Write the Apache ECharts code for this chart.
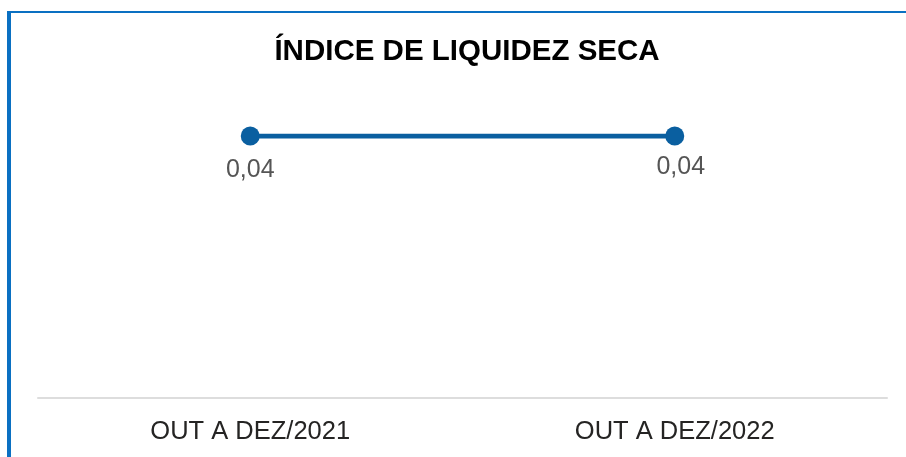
<!DOCTYPE html>
<html><head><meta charset="utf-8">
<script src="https://cdn.jsdelivr.net/npm/echarts@6/dist/echarts.min.js"></script>
<style>html,body{margin:0;padding:0;background:#fff}#c{width:906px;height:457px}</style>
</head><body><div id="c"></div>
<script>
const titleText = 'ÍNDICE DE LIQUIDEZ SECA';
const categories = ['OUT A DEZ/2021', 'OUT A DEZ/2022'];
const values = [0.04, 0.04];
const labelTexts = ['0,04', '0,04'];

const chart = echarts.init(document.getElementById('c'));
chart.setOption({
  animation: false,
  backgroundColor: '#fff',
  title: {
    text: titleText, left: 462, top: 32, textAlign: 'center',
    textStyle: {fontFamily: 'Liberation Sans', fontWeight: 'bold', fontSize: 29.5, color: '#000'}
  },
  grid: {left: 38, right: 19, top: 136, bottom: 59},
  xAxis: {
    type: 'category', data: categories, boundaryGap: true,
    axisLine: {lineStyle: {color: '#dddddd', width: 2}},
    axisTick: {show: false},
    axisLabel: {fontFamily: 'Liberation Sans', fontSize: 25.5, color: '#252423', margin: 21}
  },
  yAxis: {type: 'value', min: 0, max: 0.04, show: false, splitLine: {show: false}},
  series: [{
    type: 'line', symbol: 'circle', symbolSize: 19,
    data: values.map((v, i) => ({
      value: v,
      label: i === 1 ? {offset: [6, -3]} : {}
    })),
    lineStyle: {color: '#0a5fa0', width: 5},
    itemStyle: {color: '#0a5fa0'},
    label: {
      show: true, position: 'bottom', distance: 12,
      fontFamily: 'Liberation Sans', fontSize: 25, color: '#555555',
      formatter: p => labelTexts[p.dataIndex]
    }
  }],
  graphic: [
    {type: 'rect', shape: {x: 7, y: 11, width: 899, height: 2}, style: {fill: '#0a70c2'}, silent: true},
    {type: 'rect', shape: {x: 7, y: 11, width: 4, height: 446}, style: {fill: '#0a70c2'}, silent: true}
  ]
});
</script></body></html>
